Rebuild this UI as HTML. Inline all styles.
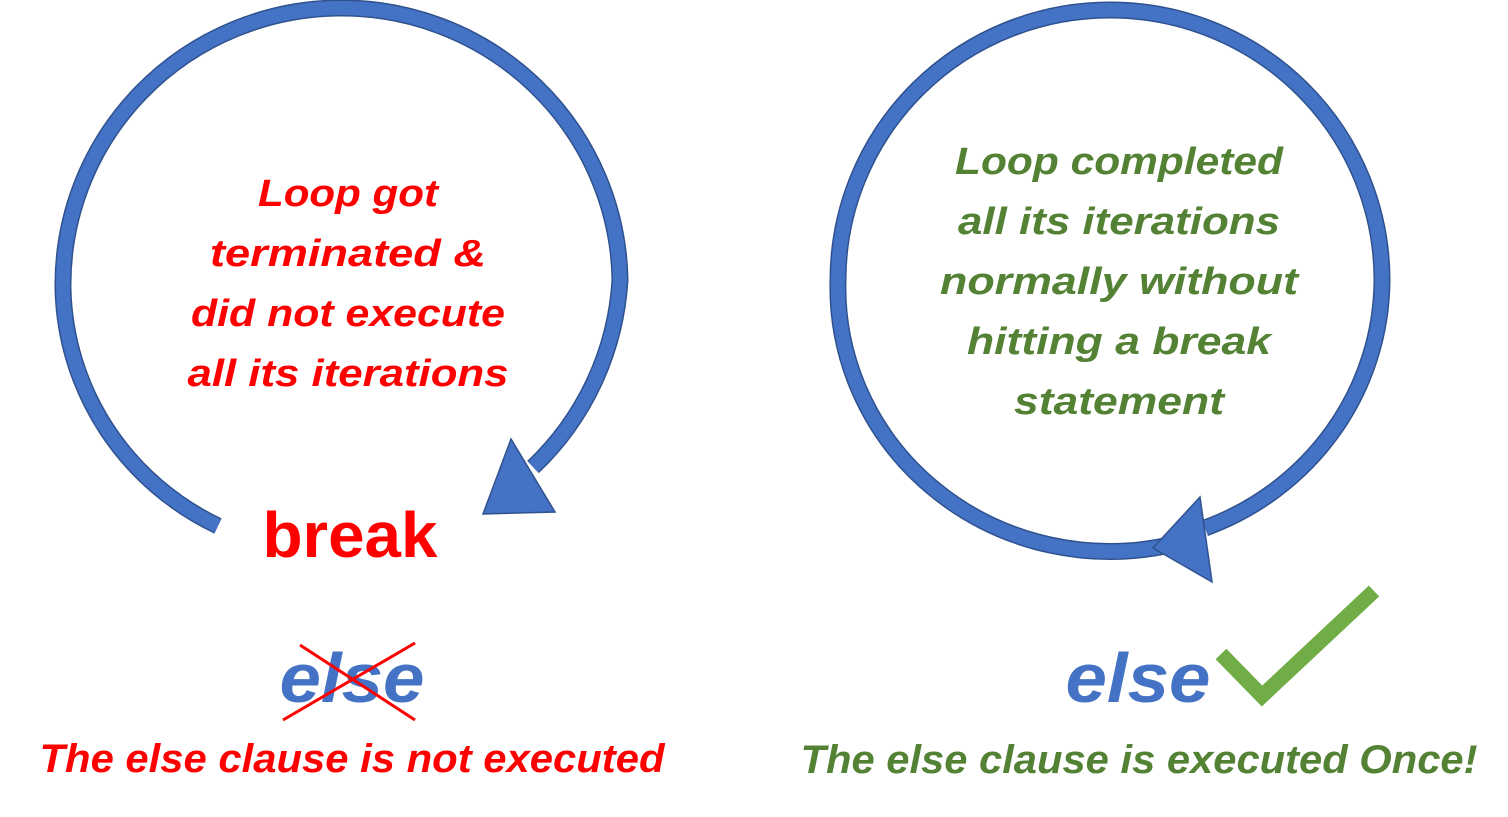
<!DOCTYPE html>
<html><head><meta charset="utf-8"><style>
html,body{margin:0;padding:0;background:#fff;}
svg{display:block;}
text{font-family:"Liberation Sans",sans-serif;font-weight:bold;}
</style></head><body>
<svg width="1508" height="817" viewBox="0 0 1508 817">
<g fill="none">
<path d="M218,526 A275 270 0 0 1 63,289 A278 276 0 0 1 620,280 A278 280 0 0 1 533,467" stroke="#2F528F" stroke-width="17"/>
<path d="M218,526 A275 270 0 0 1 63,289 A278 276 0 0 1 620,280 A278 280 0 0 1 533,467" stroke="#4472C4" stroke-width="14"/>
</g>
<polygon points="511,439 483,514 555,512" fill="#4472C4" stroke="#2F528F" stroke-width="1.5"/>
<g fill="none">
<path d="M1165,546 A272 264 0 0 1 838,280 A272 270 0 0 1 1382,280 A272 266 0 0 1 1205,528" stroke="#2F528F" stroke-width="17"/>
<path d="M1165,546 A272 264 0 0 1 838,280 A272 270 0 0 1 1382,280 A272 266 0 0 1 1205,528" stroke="#4472C4" stroke-width="14"/>
</g>
<polygon points="1200,497 1153,548 1212,582" fill="#4472C4" stroke="#2F528F" stroke-width="1.5"/>

<g fill="#FF0000" font-style="italic" font-size="38" text-anchor="middle">
<text x="348" y="206" textLength="180" lengthAdjust="spacingAndGlyphs">Loop got</text>
<text x="348" y="266" textLength="276" lengthAdjust="spacingAndGlyphs">terminated &amp;</text>
<text x="348" y="326" textLength="314" lengthAdjust="spacingAndGlyphs">did not execute</text>
<text x="348" y="386" textLength="321" lengthAdjust="spacingAndGlyphs">all its iterations</text>
</g>
<g fill="#548235" font-style="italic" font-size="38" text-anchor="middle">
<text x="1119" y="174" textLength="328" lengthAdjust="spacingAndGlyphs">Loop completed</text>
<text x="1119" y="234" textLength="322" lengthAdjust="spacingAndGlyphs">all its iterations</text>
<text x="1119" y="294" textLength="358" lengthAdjust="spacingAndGlyphs">normally without</text>
<text x="1119" y="354" textLength="304" lengthAdjust="spacingAndGlyphs">hitting a break</text>
<text x="1119" y="414" textLength="210" lengthAdjust="spacingAndGlyphs">statement</text>
</g>
<text x="350" y="557" fill="#FF0000" font-size="64" text-anchor="middle" textLength="175" lengthAdjust="spacingAndGlyphs">break</text>
<text x="352" y="702" fill="#4472C4" font-style="italic" font-size="70" text-anchor="middle" textLength="145" lengthAdjust="spacingAndGlyphs">else</text>
<line x1="300" y1="645" x2="415" y2="720" stroke="#FF0000" stroke-width="3"/>
<line x1="283" y1="720" x2="415" y2="643" stroke="#FF0000" stroke-width="3"/>
<text x="352" y="772" fill="#FF0000" font-style="italic" font-size="40" text-anchor="middle" textLength="625" lengthAdjust="spacingAndGlyphs">The else clause is not executed</text>
<text x="1138" y="702" fill="#4472C4" font-style="italic" font-size="70" text-anchor="middle" textLength="145" lengthAdjust="spacingAndGlyphs">else</text>
<polyline points="1221,654 1262,696 1374,591" fill="none" stroke="#70AD47" stroke-width="15"/>
<text x="1139" y="773" fill="#548235" font-style="italic" font-size="40" text-anchor="middle" textLength="677" lengthAdjust="spacingAndGlyphs">The else clause is executed Once!</text>
</svg>
</body></html>
